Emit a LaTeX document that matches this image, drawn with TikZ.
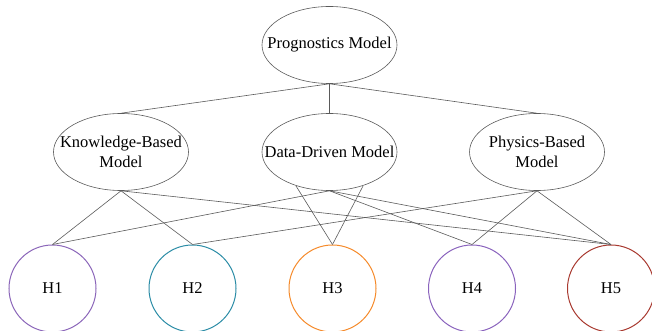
\documentclass[tikz,border=0pt]{standalone}
\usepackage{fontspec}
\setmainfont{Liberation Serif}
\usetikzlibrary{shapes.geometric}
\definecolor{hpurple}{HTML}{8B66B9}
\definecolor{hteal}{HTML}{2B8CA6}
\definecolor{horange}{HTML}{F58A2A}
\definecolor{hviolet}{HTML}{8A63BD}
\definecolor{hred}{HTML}{A8392F}
\definecolor{edgegray}{HTML}{5A5A5A}

\begin{document}
\begin{tikzpicture}[x=1pt,y=-1pt,
    model/.style ={ellipse, draw=edgegray, line width=0.6pt, minimum width=135pt,
                   minimum height=77pt, inner xsep=-20pt, inner ysep=-8pt, align=center,
                   font=\fontsize{16.5}{20}\selectfont},
    hypo/.style ={circle, draw, line width=1pt, minimum size=87pt, inner sep=0pt,
                  font=\fontsize{16.5}{20}\selectfont},
    link/.style ={draw=edgegray, line width=0.6pt}]
   \useasboundingbox (0,0) rectangle (652,331);

   \node[model] (PM) at (329.5,45)  {Prognostics Model};
   \node[model] (KB) at (121,152)   {Knowledge-Based\\Model};
   \node[model] (DD) at (329.5,152) {Data-Driven Model};
   \node[model] (PB) at (537,152)   {Physics-Based\\Model};

   \node[hypo,hpurple] (H1) at (52.5,288.5)  {\color{black}H1};
   \node[hypo,hteal]   (H2) at (192.5,288.5) {\color{black}H2};
   \node[hypo,horange] (H3) at (332.5,288.5) {\color{black}H3};
   \node[hypo,hviolet] (H4) at (472,288.5)   {\color{black}H4};
   \node[hypo,hred]    (H5) at (611,288.5)   {\color{black}H5};

   \draw[link] (PM.south) to (KB.north);
   \draw[link] (PM.south) to (DD.north);
   \draw[link] (PM.south) to (PB.north);

   \draw[link] (KB.south) to (H1.north);
   \draw[link] (KB.south) to (H2.north);
   \draw[link] (KB.south) to (H5.north);
   \draw[link] (DD.south) to (H1.north);
   \draw[link] (DD.225) to (H3.north);
   \draw[link] (DD.315) to (H3.north);
   \draw[link] (DD.south) to (H4.north);
   \draw[link] (DD.south) to (H5.north);
   \draw[link] (PB.south) to (H2.north);
   \draw[link] (PB.south) to (H4.north);
   \draw[link] (PB.south) to (H5.north);
 \end{tikzpicture}
\end{document}
